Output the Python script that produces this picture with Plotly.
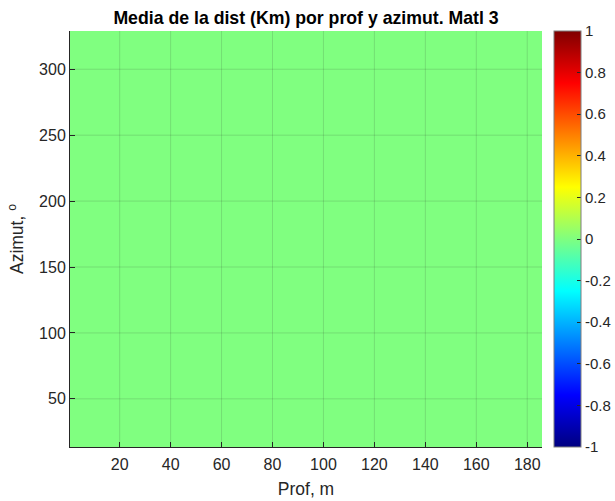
import plotly.graph_objects as go

# Data (all cells read as 0 from the picture)
depth_m = [5, 15, 25, 35, 45, 55, 65, 75, 85, 95, 105, 115, 125, 135, 145, 155, 165, 175, 185]
azimuth_deg = [15, 45, 75, 105, 135, 165, 195, 225, 255, 285, 315]
mean_dist_km = [[0 for _ in depth_m] for _ in azimuth_deg]

x_ticks = [20, 40, 60, 80, 100, 120, 140, 160, 180]
y_ticks = [50, 100, 150, 200, 250, 300]
cbar_ticks = [-1, -0.8, -0.6, -0.4, -0.2, 0, 0.2, 0.4, 0.6, 0.8, 1]
cbar_labels = ["-1", "-0.8", "-0.6", "-0.4", "-0.2", "0", "0.2", "0.4", "0.6", "0.8", "1"]

jet = [
    [0.0, "rgb(0,0,128)"],
    [0.125, "rgb(0,0,255)"],
    [0.375, "rgb(0,255,255)"],
    [0.625, "rgb(255,255,0)"],
    [0.875, "rgb(255,0,0)"],
    [1.0, "rgb(128,0,0)"],
]

FONT = "Liberation Sans, Arial, Helvetica, sans-serif"
DARK = "#262626"

fig = go.Figure(
    go.Heatmap(
        x=depth_m,
        y=azimuth_deg,
        z=mean_dist_km,
        zmin=-1,
        zmax=1,
        colorscale=jet,
        hoverinfo="skip",
        colorbar=dict(
            x=1.0254,
            xanchor="left",
            xpad=0,
            y=0.5,
            yanchor="middle",
            ypad=0,
            len=1.0,
            lenmode="fraction",
            thickness=27,
            thicknessmode="pixels",
            outlinecolor="#7f7f7f",
            outlinewidth=1,
            ticks="inside",
            ticklen=4,
            tickcolor=DARK,
            tickvals=cbar_ticks,
            ticktext=cbar_labels,
            tickfont=dict(family=FONT, size=15, color=DARK),
        ),
    )
)

shapes = []
for xt in x_ticks:
    shapes.append(dict(type="line", xref="x", yref="paper", x0=xt, x1=xt, y0=0, y1=1,
                       layer="above", line=dict(color="rgba(38,38,38,0.15)", width=1)))
for yt in y_ticks:
    shapes.append(dict(type="line", xref="paper", yref="y", x0=0, x1=1, y0=yt, y1=yt,
                       layer="above", line=dict(color="rgba(38,38,38,0.15)", width=1)))

fig.update_layout(
    width=615,
    height=501,
    margin=dict(l=70, r=73, t=31, b=54, pad=0, autoexpand=False),
    paper_bgcolor="white",
    plot_bgcolor="white",
    font=dict(family=FONT, color=DARK),
    title=dict(
        text="<b>Media de la dist (Km) por prof y azimut. Matl 3</b>",
        x=0.5,
        xref="paper",
        xanchor="center",
        y=1 - 18 / 501,
        yref="container",
        yanchor="middle",
        font=dict(family=FONT, size=17.7, color="black"),
    ),
    xaxis=dict(
        range=[0.5, 185.8],
        tickvals=x_ticks,
        ticks="inside",
        ticklen=5,
        tickcolor=DARK,
        showline=True,
        linecolor=DARK,
        linewidth=1,
        showgrid=False,
        zeroline=False,
        layer="above traces",
        ticklabelstandoff=3,
        tickfont=dict(family=FONT, size=16, color=DARK),
        title=dict(text="Prof, m", font=dict(family=FONT, size=17.5, color=DARK), standoff=10),
    ),
    yaxis=dict(
        range=[13.5, 329],
        tickvals=y_ticks,
        ticks="inside",
        ticklen=5,
        tickcolor=DARK,
        showline=True,
        linecolor=DARK,
        linewidth=1,
        showgrid=False,
        zeroline=False,
        layer="above traces",
        tickfont=dict(family=FONT, size=16, color=DARK),
        title=dict(text="Azimut, <sup>o</sup>", font=dict(family=FONT, size=17.5, color=DARK), standoff=10),
    ),
    shapes=shapes,
)

fig.write_html(
    "out.html",
    config={"displayModeBar": False},
    post_script="document.body.style.margin='0';document.body.style.overflow='hidden';",
)
